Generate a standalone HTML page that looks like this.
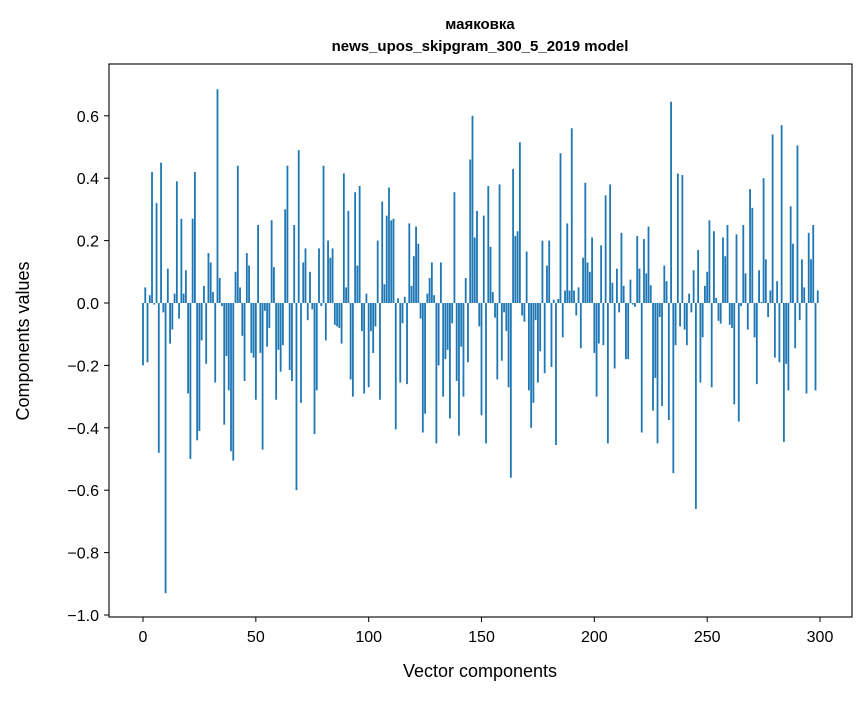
<!DOCTYPE html>
<html><head><meta charset="utf-8"><style>
body{margin:0;background:#fff;}
svg text{font-family:"Liberation Sans","DejaVu Sans",sans-serif;fill:#000;}
</style></head><body>
<svg id="chart" width="867" height="696" xmlns="http://www.w3.org/2000/svg">
<rect width="867" height="696" fill="#fff"/>
<text x="480" y="29" font-size="15" font-weight="bold" text-anchor="middle">маяковка</text>
<text x="480" y="51" font-size="15" font-weight="bold" text-anchor="middle">news_upos_skipgram_300_5_2019 model</text>
<g id="bars"></g>
<rect x="109" y="64" width="743" height="553" fill="none" stroke="#000" stroke-width="1.1"/>
<g id="xticks"></g>
<g id="yticks"></g>
<text x="480" y="677" font-size="18" text-anchor="middle">Vector components</text>
<text x="0" y="0" font-size="18" text-anchor="middle" transform="translate(29,341) rotate(-90)">Components values</text>
</svg>
<script>
const values = [
-0.20,0.05,-0.19,0.025,0.42,-0.005,0.32,-0.48,0.45,-0.03,
-0.93,0.11,-0.13,-0.085,0.03,0.39,-0.05,0.27,0.03,0.105,
-0.29,-0.50,0.27,0.42,-0.44,-0.41,-0.12,0.055,-0.195,0.16,
0.13,0.035,-0.255,0.685,0.08,-0.01,-0.39,-0.17,-0.28,-0.475,
-0.505,0.10,0.44,0.05,-0.105,-0.25,0.16,0.12,-0.16,-0.175,
-0.31,0.25,-0.16,-0.47,-0.025,-0.14,-0.08,0.265,0.115,-0.31,
-0.15,-0.22,-0.135,0.30,0.44,-0.215,-0.25,0.25,-0.60,0.49,
-0.32,0.13,0.175,-0.055,0.10,-0.02,-0.42,-0.28,0.175,-0.01,
0.44,-0.12,0.20,0.145,0.175,-0.07,-0.075,-0.08,-0.13,0.415,
0.05,0.295,-0.245,-0.30,0.355,0.12,0.375,-0.09,-0.29,0.03,
-0.27,-0.09,-0.16,-0.075,0.20,-0.31,0.325,0.06,0.28,0.37,
0.265,0.27,-0.405,0.015,-0.255,-0.065,0.02,-0.26,0.255,0.055,
0.15,0.245,0.19,-0.05,-0.415,-0.355,0.03,0.08,0.13,0.025,
-0.45,-0.20,0.13,-0.30,-0.18,-0.15,-0.37,-0.065,0.355,-0.25,
-0.425,-0.14,-0.30,0.08,-0.19,0.46,0.60,0.21,0.295,-0.075,
-0.36,0.28,-0.45,0.375,0.18,0.035,-0.047,-0.245,0.38,-0.185,
-0.03,-0.09,-0.27,-0.56,0.43,0.215,0.23,0.515,-0.04,-0.06,
0.165,-0.28,-0.40,-0.32,-0.055,-0.255,-0.155,0.20,-0.225,0.12,
0.20,-0.205,0.01,-0.455,0.013,0.48,-0.11,0.04,0.255,0.04,
0.56,0.04,-0.04,0.05,-0.145,0.145,0.385,0.13,0.10,0.21,
-0.16,-0.30,-0.13,0.185,-0.135,0.345,-0.45,0.38,0.065,-0.21,
0.11,-0.03,0.225,0.055,-0.18,-0.18,0.075,-0.005,-0.012,0.215,
0.11,-0.415,0.205,0.095,0.245,0.057,-0.345,-0.24,-0.45,-0.045,
-0.33,0.12,0.07,-0.375,0.645,-0.545,-0.135,0.415,-0.075,0.41,
-0.085,-0.135,0.03,-0.03,0.105,-0.66,0.17,-0.255,-0.11,0.055,
0.10,0.265,-0.27,0.23,0.016,-0.057,-0.066,0.21,0.15,0.25,
-0.07,-0.08,-0.325,0.22,-0.38,-0.01,0.25,0.095,-0.085,0.365,
0.305,-0.11,-0.26,0.105,0.003,0.40,0.14,-0.045,0.04,0.54,
-0.175,0.07,-0.19,0.57,-0.445,-0.195,-0.28,0.31,0.19,-0.145,
0.505,-0.055,0.14,0.05,-0.29,0.225,0.14,0.25,-0.28,0.04
];
const xTickValues = [0,50,100,150,200,250,300];
const xTickLabels = ["0","50","100","150","200","250","300"];
const yTickValues = [0.6,0.4,0.2,0.0,-0.2,-0.4,-0.6,-0.8,-1.0];
const yTickLabels = ["0.6","0.4","0.2","0.0","\u22120.2","\u22120.4","\u22120.6","\u22120.8","\u22121.0"];

const NS="http://www.w3.org/2000/svg";
function xScale(i){return 143+2.2567*i;}
function yScale(v){return 303-312*v;}
const barW=0.8*2.2567;
const gb=document.getElementById('bars');
values.forEach((v,i)=>{
  const r=document.createElementNS(NS,'rect');
  const y0=yScale(0), y1=yScale(v);
  r.setAttribute('x',(xScale(i)-barW/2).toFixed(2));
  r.setAttribute('y',Math.min(y0,y1).toFixed(2));
  r.setAttribute('width',barW.toFixed(2));
  r.setAttribute('height',Math.max(Math.abs(y1-y0),0.3).toFixed(2));
  r.setAttribute('fill','#1f77b4');
  
  
  gb.appendChild(r);
});
const gx=document.getElementById('xticks');
xTickValues.forEach((t,k)=>{
  const x=xScale(t);
  const l=document.createElementNS(NS,'line');
  l.setAttribute('x1',x);l.setAttribute('x2',x);l.setAttribute('y1',617);l.setAttribute('y2',622);
  l.setAttribute('stroke','#000');
  
  
  gx.appendChild(l);
  const tx=document.createElementNS(NS,'text');
  tx.setAttribute('x',x);tx.setAttribute('y',642);tx.setAttribute('font-size','16');tx.setAttribute('text-anchor','middle');
  tx.textContent=xTickLabels[k];
  
  
  gx.appendChild(tx);
});
const gy=document.getElementById('yticks');
yTickValues.forEach((t,k)=>{
  const y=yScale(t);
  const l=document.createElementNS(NS,'line');
  l.setAttribute('x1',104);l.setAttribute('x2',109);l.setAttribute('y1',y);l.setAttribute('y2',y);
  l.setAttribute('stroke','#000');
  
  
  gy.appendChild(l);
  const tx=document.createElementNS(NS,'text');
  tx.setAttribute('x',99);tx.setAttribute('y',y+6);tx.setAttribute('font-size','16');tx.setAttribute('text-anchor','end');
  tx.textContent=yTickLabels[k];
  
  
  gy.appendChild(tx);
});
</script>
</body></html>
